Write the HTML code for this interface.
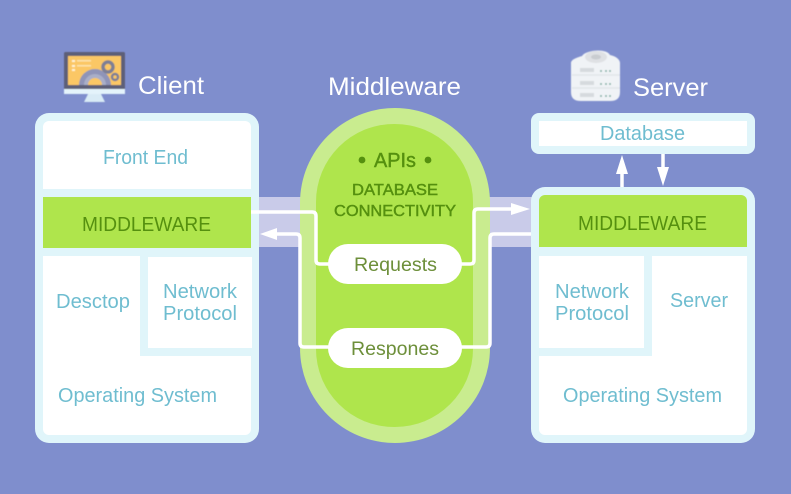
<!DOCTYPE html>
<html><head><meta charset="utf-8"><style>
html,body{margin:0;padding:0;background:#7f8ecd}
svg{display:block}
text{font-family:"Liberation Sans",sans-serif}
</style></head><body>
<svg width="791" height="494" viewBox="0 0 791 494" xmlns="http://www.w3.org/2000/svg">
<defs><filter id="soft" x="-10%" y="-10%" width="120%" height="120%"><feGaussianBlur stdDeviation="0.6"/></filter></defs>
<rect width="791" height="494" fill="#7f8ecd"/>
<!-- bands -->
<rect x="250" y="197" width="60" height="50" fill="#c9cbe9"/>
<rect x="480" y="197" width="60" height="50" fill="#c9cbe9"/>
<!-- middle pill -->
<rect x="300" y="108" width="190" height="335" rx="95" fill="#c9ec8f"/>
<rect x="316" y="124" width="157" height="303" rx="78" fill="#afe54c"/>
<!-- client card -->
<rect x="35" y="113" width="224" height="330" rx="14" fill="#e0f5fa"/>
<path d="M43 127a6 6 0 0 1 6-6H245a6 6 0 0 1 6 6V189H43Z" fill="#fff"/>
<rect x="43" y="197" width="208" height="51" fill="#afe54c"/>
<path d="M43 256H140V356H251V429a6 6 0 0 1-6 6H49a6 6 0 0 1-6-6Z" fill="#fff"/>
<rect x="148" y="257" width="104" height="91" fill="#fff"/>
<!-- server cards -->
<rect x="531" y="113" width="224" height="41" rx="8" fill="#e0f5fa"/>
<rect x="539" y="121" width="208" height="25" fill="#fff"/>
<rect x="531" y="187" width="224" height="256" rx="14" fill="#e0f5fa"/>
<path d="M539 201a6 6 0 0 1 6-6H741a6 6 0 0 1 6 6V247H539Z" fill="#afe54c"/>
<rect x="539" y="256" width="105" height="92" fill="#fff"/>
<path d="M652 256H747V429a6 6 0 0 1-6 6H545a6 6 0 0 1-6-6V356H652Z" fill="#fff"/>
<!-- connectors -->
<g fill="none" stroke="#fff" stroke-width="3.5" stroke-linejoin="round">
<path d="M251 212H312Q316 212 316 216V260Q316 264 320 264H335"/>
<path d="M272 234H296Q300 234 300 238V343Q300 347 304 347H335"/>
<path d="M455 264H470Q474 264 474 260V213Q474 209 478 209H515"/>
<path d="M455 347H486Q490 347 490 343V238Q490 234 494 234H531"/>
<path d="M622 187V170"/>
<path d="M663 154V172"/>
</g>
<g fill="#fff">
<path d="M260 234L277 228V240Z"/>
<path d="M530 209L511 203V215Z"/>
<path d="M622 155L616 174H628Z"/>
<path d="M663 186L657 167H669Z"/>
<rect x="328" y="244" width="134" height="40" rx="20"/>
<rect x="328" y="328" width="134" height="40" rx="20"/>
</g>
<!-- monitor icon -->
<g filter="url(#soft)">
<rect x="64" y="52" width="61" height="38" rx="1.5" fill="#5d5f78"/>
<rect x="68" y="56" width="53" height="29" fill="#fbc765"/>
<rect x="64" y="89" width="61" height="5" fill="#e4f3fb"/>
<path d="M88 94H101L105 102H84Z" fill="#d9ebf6"/>
<path d="M79 85a16 16 0 0 1 32 0H104a9 9 0 0 0-18 0Z" fill="#8f94b8"/>
<path d="M84 85a11 11 0 0 1 22 0H102a7 7 0 0 0-14 0Z" fill="#a9aec8"/>
<circle cx="108" cy="67" r="5" fill="none" stroke="#7d7f95" stroke-width="3.5"/>
<circle cx="115" cy="77" r="3" fill="none" stroke="#7d7f95" stroke-width="2.5"/>
<g fill="#fff3d6"><rect x="72" y="60" width="3" height="2"/><rect x="72" y="65" width="3" height="2"/><rect x="72" y="69" width="3" height="2"/><rect x="77" y="60" width="14" height="1.5" fill="#fde3ac"/><rect x="77" y="65" width="14" height="1.5" fill="#fde3ac"/></g>
</g>
<!-- server icon -->
<g filter="url(#soft)">
<path d="M571 63c0-4 8-6 11-7 4-6 24-8 28-1 5 1 10 4 10 8V92c0 6-3 9-10 9H581c-7 0-10-3-10-9Z" fill="#f0f3f6"/>
<ellipse cx="596" cy="57" rx="11" ry="6" fill="#dfe1e4"/>
<ellipse cx="596" cy="57" rx="5" ry="2.5" fill="#c9ccd0"/>
<path d="M572 75H620M572 88H620" stroke="#dfe3e7" stroke-width="1.2"/>
<g fill="#d6dade"><rect x="580" y="68" width="14" height="4"/><rect x="580" y="81" width="14" height="4"/><rect x="580" y="93" width="14" height="4"/></g>
<g fill="#7fb0a4"><circle cx="601" cy="71" r="1"/><circle cx="606" cy="71" r="1"/><circle cx="610" cy="71" r="1"/><circle cx="601" cy="84" r="1"/><circle cx="606" cy="84" r="1"/><circle cx="610" cy="84" r="1"/><circle cx="601" cy="96" r="1"/><circle cx="606" cy="96" r="1"/><circle cx="610" cy="96" r="1"/></g>
</g>
<!-- titles -->
<g fill="#fff" font-size="25">
<text x="138" y="94" textLength="66" lengthAdjust="spacingAndGlyphs">Client</text>
<text x="328" y="95" textLength="133" lengthAdjust="spacingAndGlyphs">Middleware</text>
<text x="633" y="96" textLength="75" lengthAdjust="spacingAndGlyphs">Server</text>
</g>
<!-- blue labels -->
<g fill="#6fbdd0" font-size="20">
<text x="103" y="164" textLength="85" lengthAdjust="spacingAndGlyphs">Front End</text>
<text x="56" y="308" textLength="74" lengthAdjust="spacingAndGlyphs">Desctop</text>
<text x="163" y="298" textLength="74" lengthAdjust="spacingAndGlyphs">Network</text>
<text x="163" y="320" textLength="74" lengthAdjust="spacingAndGlyphs">Protocol</text>
<text x="58" y="402" textLength="159" lengthAdjust="spacingAndGlyphs">Operating System</text>
<text x="600" y="140" textLength="85" lengthAdjust="spacingAndGlyphs">Database</text>
<text x="555" y="298" textLength="74" lengthAdjust="spacingAndGlyphs">Network</text>
<text x="555" y="320" textLength="74" lengthAdjust="spacingAndGlyphs">Protocol</text>
<text x="670" y="307" textLength="58" lengthAdjust="spacingAndGlyphs">Server</text>
<text x="563" y="402" textLength="159" lengthAdjust="spacingAndGlyphs">Operating System</text>
</g>
<!-- green labels -->
<g fill="#55900f">
<text x="82" y="231" font-size="20" textLength="129" lengthAdjust="spacingAndGlyphs">MIDDLEWARE</text>
<text x="578" y="230" font-size="20" textLength="129" lengthAdjust="spacingAndGlyphs">MIDDLEWARE</text>
<text x="374" y="167" font-size="20" textLength="42" lengthAdjust="spacingAndGlyphs" stroke="#55900f" stroke-width="0.4">APIs</text>
<circle cx="362" cy="160" r="3.4"/><circle cx="428" cy="160" r="3.4"/>
<text x="352" y="195" font-size="16" textLength="86" lengthAdjust="spacingAndGlyphs" stroke="#55900f" stroke-width="0.45">DATABASE</text>
<text x="334" y="216" font-size="16" textLength="122" lengthAdjust="spacingAndGlyphs" stroke="#55900f" stroke-width="0.45">CONNECTIVITY</text>
</g>
<g fill="#6d8f3a" font-size="19">
<text x="354" y="271" textLength="83" lengthAdjust="spacingAndGlyphs">Requests</text>
<text x="351" y="355" textLength="88" lengthAdjust="spacingAndGlyphs">Respones</text>
</g>
</svg>
</body></html>
